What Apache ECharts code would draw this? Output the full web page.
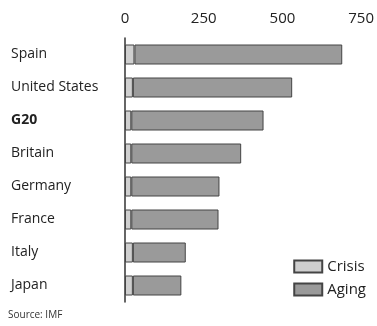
<!DOCTYPE html>
<html>
<head>
<meta charset="utf-8">
<script src="https://cdn.jsdelivr.net/npm/echarts@6/dist/echarts.min.js"></script>
<style>
html,body{margin:0;padding:0;background:#fff;}
#chart{width:377px;height:326px;}
</style>
</head>
<body>
<div id="chart"></div>
<script>
// categories, top to bottom
var countries = ['Spain', 'United States', 'G20', 'Britain', 'Germany', 'France', 'Italy', 'Japan'];
var crisis = [30, 25, 20, 20, 20, 20, 25, 25];
var aging = [660, 506, 420, 349, 280, 277, 168, 154];
var ticks = [0, 250, 500, 750];

var chart = echarts.init(document.getElementById('chart'));
chart.setOption({
    textStyle: {fontFamily: 'Open Sans'},
    grid: {left: 125, right: 15, top: 38, bottom: 24, containLabel: false},
    xAxis: {
        type: 'value',
        position: 'top',
        min: ticks[0],
        max: ticks[ticks.length - 1],
        interval: 250,
        axisLine: {show: false},
        axisTick: {show: false},
        splitLine: {show: false},
        axisLabel: {color: '#222', fontSize: 15, margin: 12}
    },
    yAxis: {
        type: 'category',
        data: countries,
        inverse: true,
        axisLine: {show: true, lineStyle: {color: '#333', width: 1.5}},
        axisTick: {show: false},
        axisLabel: {
            align: 'left',
            margin: 114,
            color: '#222',
            fontSize: 14,
            formatter: function (v) {
                return v == 'G20' ? '{b|' + v + '}' : v;
            },
            rich: {b: {fontWeight: 'bold', fontSize: 14, color: '#222'}}
        }
    },
    legend: {
        orient: 'vertical',
        right: 6,
        top: 254,
        icon: 'rect',
        itemWidth: 28,
        itemHeight: 12,
        itemGap: 8,
        textStyle: {fontSize: 15, color: '#222'},
        data: ['Crisis', 'Aging']
    },
    graphic: [{
        type: 'text',
        left: 8,
        top: 310,
        style: {text: 'Source: IMF', fontSize: 10, fill: '#333', fontFamily: 'Open Sans'}
    }],
    series: [
        {
            name: 'Crisis',
            type: 'bar',
            stack: 'total',
            barWidth: 20,
            data: crisis,
            itemStyle: {color: '#cfcfcf', borderColor: '#444', borderWidth: 1}
        },
        {
            name: 'Aging',
            type: 'bar',
            stack: 'total',
            barWidth: 20,
            data: aging,
            itemStyle: {color: '#9a9a9a', borderColor: '#444', borderWidth: 1}
        }
    ]
});
</script>
</body>
</html>
